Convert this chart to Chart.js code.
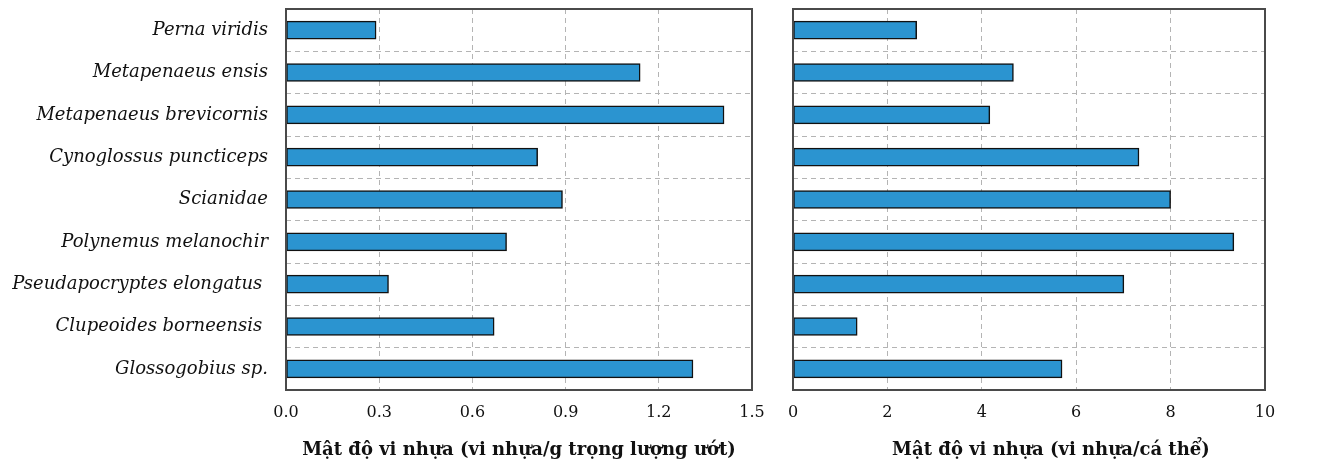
<!DOCTYPE html>
<html>
<head>
<meta charset="utf-8">
<script src="https://cdn.jsdelivr.net/npm/chart.js@4"></script>
<style>
  body { margin: 0; background: #fff; }
  #wrap { position: relative; width: 1340px; height: 465px; }
  canvas { position: absolute; top: 0; }
</style>
</head>
<body>
<div id="wrap">
  <canvas id="leftChart" width="770" height="465" style="left:0"></canvas>
  <canvas id="rightChart" width="570" height="465" style="left:770px"></canvas>
</div>
<script>
  // ────────── Data ──────────
  const species = [
    'Perna viridis', 'Metapenaeus ensis', 'Metapenaeus brevicornis',
    'Cynoglossus puncticeps', 'Scianidae', 'Polynemus melanochir',
    'Pseudapocryptes elongatus ', 'Clupeoides borneensis ', 'Glossogobius sp.'
  ];
  const perGram = [0.29, 1.14, 1.41, 0.81, 0.89, 0.71, 0.33, 0.67, 1.31];
  const perFish = [2.62, 4.67, 4.17, 7.33, 8.0, 9.34, 7.01, 1.36, 5.7];
  const leftTitle = 'Mật độ vi nhựa (vi nhựa/g trọng lượng ướt)';
  // leading spaces nudge the title right, like in the original figure
  const rightTitle = '       Mật độ vi nhựa (vi nhựa/cá thể)';

  const serif = '"DejaVu Serif", "Liberation Serif", serif';

  // frame around plot area
  const frame = {
    id: 'frame',
    afterDraw(chart) {
      const { ctx, chartArea: a } = chart;
      ctx.save();
      ctx.strokeStyle = '#4a4a4a';
      ctx.lineWidth = 2;
      ctx.strokeRect(a.left, a.top, a.right - a.left, a.bottom - a.top);
      ctx.restore();
    }
  };

  function makeChart(id, values, max, step, title, yWidth, padRight, showLabels, decimals) {
    const ctx = document.getElementById(id).getContext('2d');
    return new Chart(ctx, {
      type: 'bar',
      data: {
        labels: species,
        datasets: [{
          data: values,
          backgroundColor: '#2b94d0',
          borderColor: '#111',
          borderWidth: 1.5,
          borderSkipped: false,
          barThickness: 18
        }]
      },
      options: {
        indexAxis: 'y',
        responsive: false,
        animation: false,
        layout: { padding: { top: 9, right: padRight, bottom: 0, left: 0 } },
        plugins: { legend: { display: false }, tooltip: { enabled: false } },
        scales: {
          x: {
            min: 0, max: max,
            afterFit(s) { s.height = 75; s.paddingLeft = 0; s.paddingRight = 0; },
            ticks: {
              stepSize: step,
              padding: 13,
              color: '#111',
              font: { family: serif, size: 16 },
              callback: v => Number(v).toFixed(decimals)
            },
            grid: { color: '#b4b4b4', lineWidth: 1, drawTicks: false },
            border: { display: false, dash: [5, 4] },
            title: {
              display: true, text: title, color: '#111',
              font: { family: serif, size: 18, weight: 'bold' },
              padding: { top: 0, bottom: 4 }
            }
          },
          y: {
            afterFit(s) { s.width = yWidth; s.paddingTop = 0; s.paddingBottom = 0; },
            ticks: {
              display: showLabels,
              padding: 18,
              color: '#111',
              font: { family: serif, size: 18, style: 'italic' }
            },
            grid: { color: '#b4b4b4', lineWidth: 1, drawTicks: false },
            border: { display: false, dash: [5, 4] }
          }
        }
      },
      plugins: [frame]
    });
  }

  makeChart('leftChart', perGram, 1.5, 0.3, leftTitle, 286, 18, true, 1);
  makeChart('rightChart', perFish, 10, 2, rightTitle, 23, 75, false, 0);
</script>
</body>
</html>
